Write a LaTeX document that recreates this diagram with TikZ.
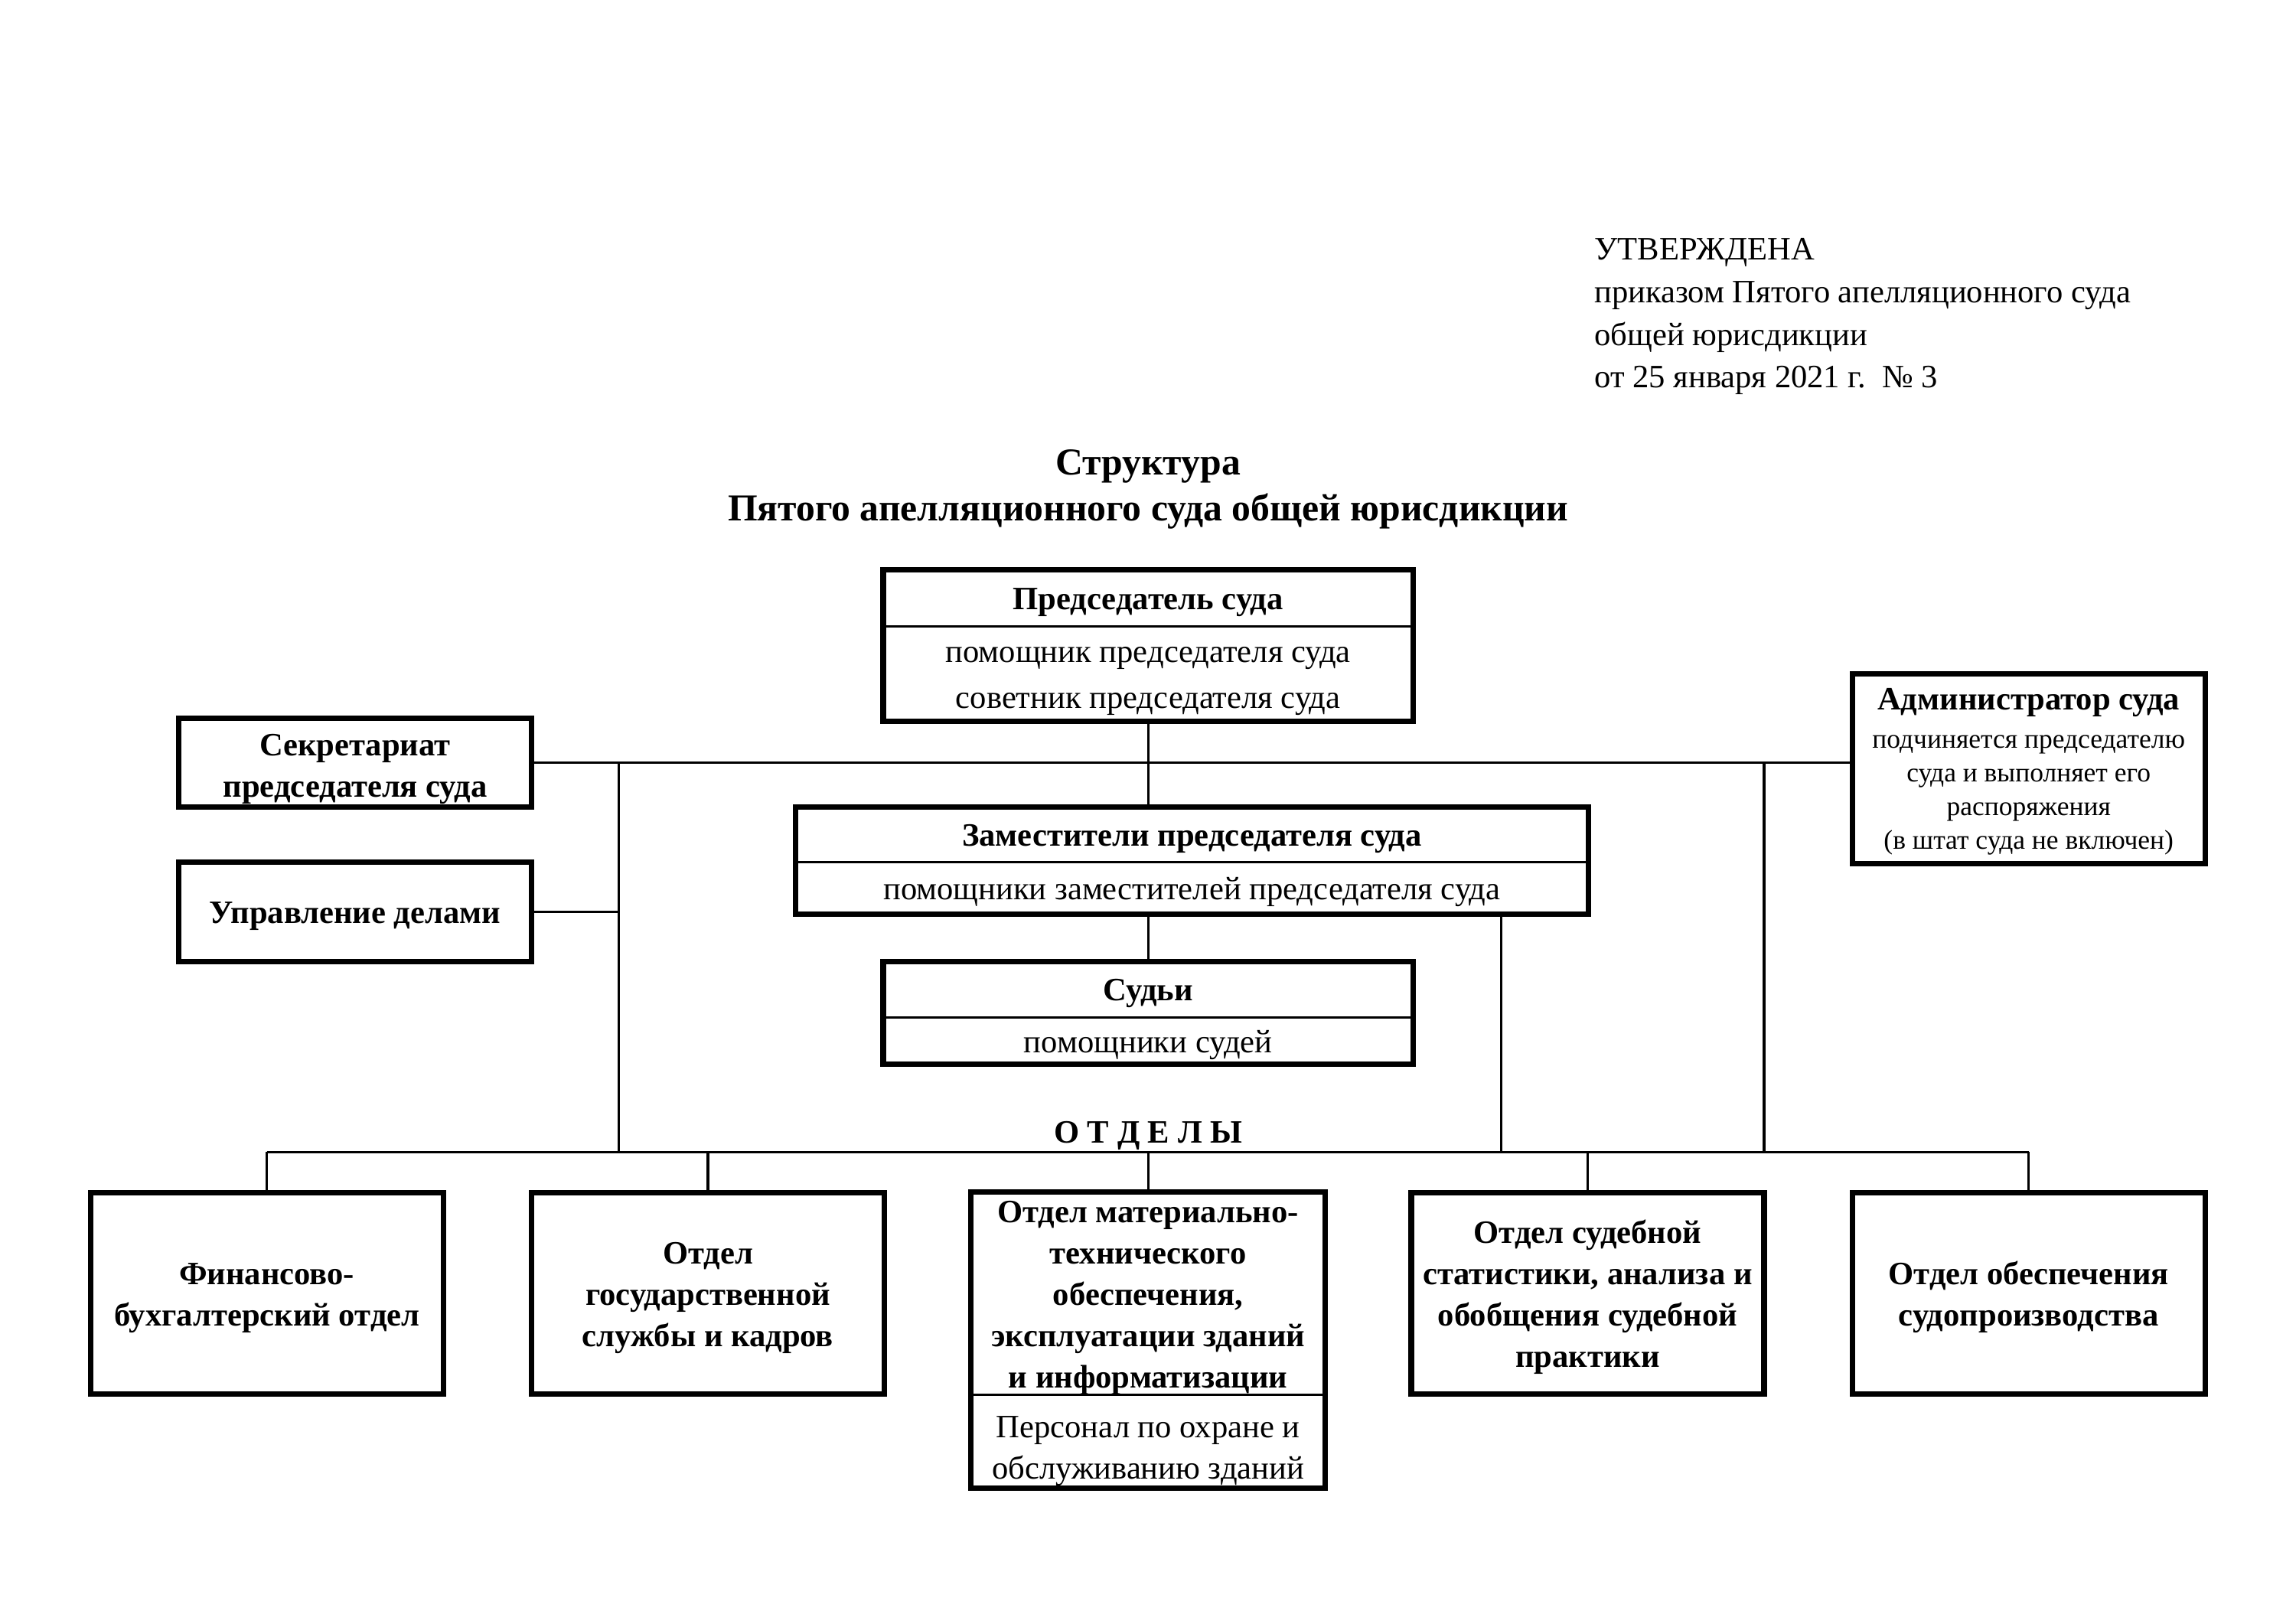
\documentclass[tikz,border=0pt]{standalone}
\usepackage{fontspec}
\setmainfont{Liberation Serif}
\usetikzlibrary{positioning}
\newlength\upx
\setlength\upx{0.09836mm}
\newcommand\lift[1]{\rule{0pt}{#1}}

\begin{document}
\begin{tikzpicture}[x={(\upx,0)}, y={(0,-\upx)},
        every node/.style = {inner sep=0pt, outer sep=0pt, align=center,
          font=\fontsize{12pt}{16.8pt}\selectfont, execute at begin node={\rule{0pt}{11pt}}},
        part/.style = {draw, line width=0.9pt, minimum width=#1\upx},
        part/.default = 464,
        unit/.style = {draw, line width=2pt, minimum width=464\upx},
        bold/.style = {font=\bfseries\fontsize{12pt}{15.2pt}\selectfont},
        small/.style = {font=\fontsize{10pt}{12.4pt}\selectfont},
        link/.style = {line width=0.9pt}
        ]
        \useasboundingbox (0,0) rectangle (3019.6,2134.9);
        \node[anchor=west, align=left, font=\fontsize{12pt}{15.7pt}\selectfont] (appr) at (2097,411)
          {\lift{11pt}УТВЕРЖДЕНА\\приказом Пятого апелляционного суда\\общей юрисдикции\\от 25 января 2021 г.\ \ № 3};
        \node[font=\bfseries\fontsize{14pt}{16.8pt}\selectfont] (ttl) at (1510,638)
          {\lift{12.5pt}Структура\\Пятого апелляционного суда общей юрисдикции};

        \node[part=697, minimum height=75\upx, bold] (chair) at (1510,786.5) {Председатель суда};
        \node[part=697, minimum height=125\upx, below=0pt of chair] (chairsub)
          {\lift{11pt}помощник председателя суда\\советник председателя суда};
        \draw[line width=2pt] (chair.north west) rectangle (chairsub.south east);

        \node[unit, minimum height=250\upx, small] (adm) at (2668,1011)
          {\bfseries\fontsize{12pt}{12.4pt}\selectfont\lift{10pt}Администратор суда\\[1.6pt]\mdseries\fontsize{10pt}{12.4pt}\selectfont
           подчиняется председателю\\суда и выполняет его\\распоряжения\\(в штат суда не включен)};
        \node[unit, minimum height=116\upx, bold] (secr) at (467,1003) {\lift{12.5pt}Секретариат\\председателя суда};
        \node[unit, minimum height=131\upx, bold] (upr) at (467,1199.5) {Управление делами};

        \node[part=1043, minimum height=73\upx, bold] (dep) at (1567.5,1097.5) {Заместители председателя суда};
        \node[part=1043, minimum height=68\upx, below=0pt of dep] (depsub)
          {помощники заместителей председателя суда};
        \draw[line width=2pt] (dep.north west) rectangle (depsub.south east);

        \node[part=697, minimum height=73\upx, bold] (judge) at (1510,1301.5) {Судьи};
        \node[part=697, minimum height=62\upx, below=0pt of judge] (judgesub) {помощники судей};
        \draw[line width=2pt] (judge.north west) rectangle (judgesub.south east);

        \node[bold] (otd) at (1510,1488) {О Т Д Е Л Ы};

        \node[unit, minimum height=264\upx, bold] (d1) at (351,1701) {\lift{11.2pt}Финансово-\\бухгалтерский отдел};
        \node[unit, minimum height=264\upx, bold] (d2) at (931,1701) {\lift{11.2pt}Отдел\\государственной\\службы и кадров};
        \node[part=466, minimum height=264\upx, bold] (d3) at (1510,1701)
          {\lift{11.2pt}Отдел материально-\\технического\\обеспечения,\\эксплуатации зданий\\и информатизации};
        \node[part=466, minimum height=123\upx, below=0pt of d3, font=\fontsize{12pt}{15.2pt}\selectfont] (d3sub)
          {\lift{15pt}Персонал по охране и\\обслуживанию зданий};
        \draw[line width=2pt] (d3.north west) rectangle (d3sub.south east);
        \node[unit, minimum height=264\upx, bold] (d4) at (2088,1701)
          {\lift{11.2pt}Отдел судебной\\статистики, анализа и\\обобщения судебной\\практики};
        \node[unit, minimum height=264\upx, bold] (d5) at (2668,1701) {\lift{11.2pt}Отдел обеспечения\\судопроизводства};

        \coordinate (bus) at (0,1515);
        \coordinate (lt) at (814,1003);
        \coordinate (rt) at (2320,1003);
        \coordinate (dt) at (1974,1202);
        \draw[link] (secr.east) -- (secr.east -| adm.west);
        \draw[link] (chairsub.south) -- (chairsub.south |- dep.north);
        \draw[link] (judge.north |- depsub.south) -- (judge.north);
        \draw[link] (lt) -- (lt |- bus);
        \draw[link] (rt) -- (rt |- bus);
        \draw[link] (dt) -- (dt |- bus);
        \draw[link] (upr.east) -- (upr.east -| lt);
        \draw[link] (d1.north |- bus) -- (d5.north |- bus);
        \foreach \n in {d1,d2,d3,d4,d5}
          \draw[link] (\n.north |- bus) -- (\n.north);
\end{tikzpicture}
\end{document}
